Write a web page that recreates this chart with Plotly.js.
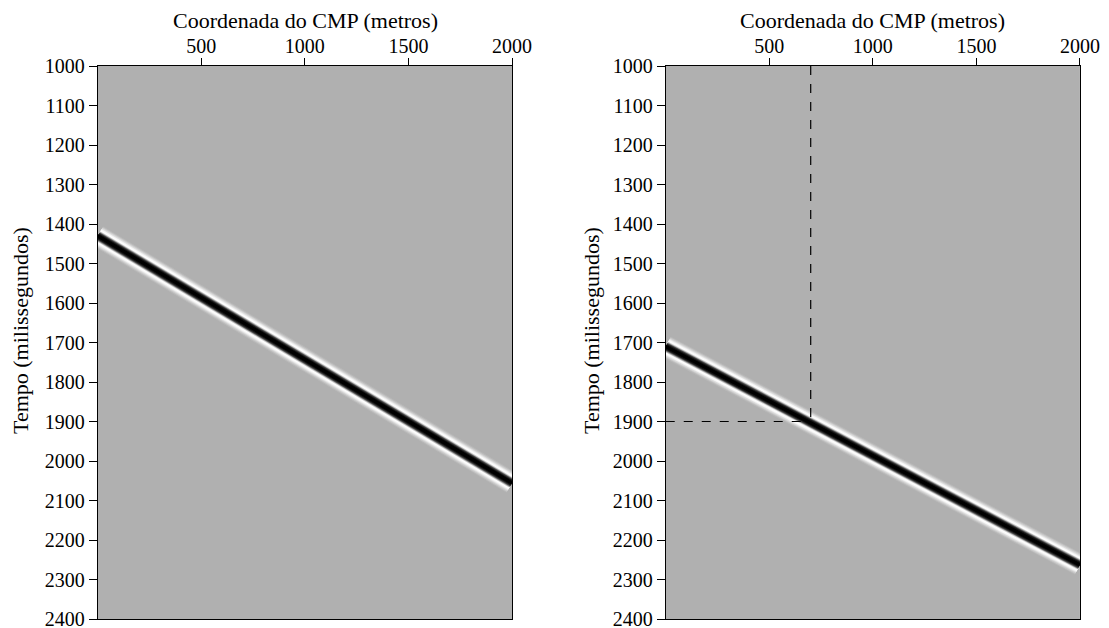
<!DOCTYPE html>
<html>
<head>
<meta charset="utf-8">
<script src="https://cdn.plot.ly/plotly-3.0.1.min.js"></script>
<style>html,body{margin:0;padding:0;background:#fff;}#chart{width:1109px;height:628px;}</style>
</head>
<body>
<div id="chart"></div>
<script>
// Reflector position (CMP coordinate, m) and travel time (ms)
const cmpEnds = [0, 2000];
const timeLeft = [1430, 2056];   // left panel reflector
const timeRight = [1710, 2263];  // right panel reflector
const pickX = 700;               // dashed pick on right panel
const pickT = 1900;
const xTicks = [500, 1000, 1500, 2000];
const xTitle = 'Coordenada do CMP (metros)';
const yTitle = 'Tempo (milissegundos)';

// wavelet rendering as stacked strokes (outer to inner)
const strokes = [
  {w: 22, c: '#b8b8b8'},
  {w: 20, c: '#c8c8c8'},
  {w: 18, c: '#dadada'},
  {w: 16, c: '#ededed'},
  {w: 14.5, c: '#fafafa'},
  {w: 12.5, c: '#ffffff'},
  {w: 11, c: '#ececec'},
  {w: 10, c: '#c6c6c6'},
  {w: 9, c: '#989898'},
  {w: 8, c: '#666666'},
  {w: 7, c: '#3a3a3a'},
  {w: 5.5, c: '#161616'},
  {w: 3.5, c: '#000000'}
];

const traces = [];
function addReflector(times, xa, ya) {
  strokes.forEach(s => {
    traces.push({
      type: 'scatter', mode: 'lines', x: cmpEnds, y: times,
      xaxis: xa, yaxis: ya, hoverinfo: 'skip', showlegend: false,
      line: {color: s.c, width: s.w}
    });
  });
}
addReflector(timeLeft, 'x', 'y');
addReflector(timeRight, 'x2', 'y2');

const tickFont = {family: 'Liberation Serif', size: 20, color: '#000'};
const titleFont = {family: 'Liberation Serif', size: 22, color: '#000'};

function xax(domain, anchor) {
  return {
    domain: domain, anchor: anchor, side: 'top', range: [0, 2000],
    tickvals: xTicks, ticktext: xTicks.map(String),
    ticks: 'outside', ticklen: 7, tickwidth: 1, tickcolor: '#000',
    ticklabelstandoff: -3,
    showline: true, mirror: true, linecolor: '#000', linewidth: 1,
    showgrid: false, zeroline: false, tickfont: tickFont,
    ticklabeloverflow: 'allow', fixedrange: true
  };
}
function yax(anchor) {
  return {
    domain: [0, 1], anchor: anchor, range: [2400, 1000],
    tick0: 1000, dtick: 100,
    ticks: 'outside', ticklen: 8, tickwidth: 1, tickcolor: '#000',
    showline: true, mirror: true, linecolor: '#000', linewidth: 1,
    showgrid: false, zeroline: false, tickfont: tickFont,
    ticklabeloverflow: 'allow', fixedrange: true
  };
}

// title positions in paper coordinates (plot area spans y 66..619 px)
const W = 1109, plotTop = 66, plotH = 553;
const py = px => 1 - (px - plotTop) / plotH;
const annotations = [
  {text: xTitle, x: 305 / W, y: py(20), xref: 'paper', yref: 'paper', xanchor: 'center', yanchor: 'middle', showarrow: false, font: titleFont},
  {text: xTitle, x: 873 / W, y: py(20), xref: 'paper', yref: 'paper', xanchor: 'center', yanchor: 'middle', showarrow: false, font: titleFont},
  {text: yTitle, x: 20 / W, y: py(331), xref: 'paper', yref: 'paper', xanchor: 'center', yanchor: 'middle', textangle: -90, showarrow: false, font: titleFont},
  {text: yTitle, x: 591 / W, y: py(331), xref: 'paper', yref: 'paper', xanchor: 'center', yanchor: 'middle', textangle: -90, showarrow: false, font: titleFont}
];

const layout = {
  width: 1109, height: 628,
  margin: {l: 0, r: 0, t: 66, b: 9, autoexpand: false},
  paper_bgcolor: '#fff',
  plot_bgcolor: '#b0b0b0',
  font: tickFont,
  showlegend: false,
  xaxis: xax([0.0881, 0.4617], 'y'),
  yaxis: yax('x'),
  xaxis2: xax([0.6003, 0.9738], 'y2'),
  yaxis2: yax('x2'),
  annotations: annotations,
  shapes: [
    {type: 'line', xref: 'x2', yref: 'y2', x0: pickX, x1: pickX, y0: 1000, y1: pickT,
     line: {color: '#000', width: 1.2, dash: 'dash'}},
    {type: 'line', xref: 'x2', yref: 'y2', x0: 0, x1: pickX, y0: pickT, y1: pickT,
     line: {color: '#000', width: 1.2, dash: 'dash'}}
  ]
};

Plotly.newPlot('chart', traces, layout, {displayModeBar: false, staticPlot: true});
</script>
</body>
</html>
